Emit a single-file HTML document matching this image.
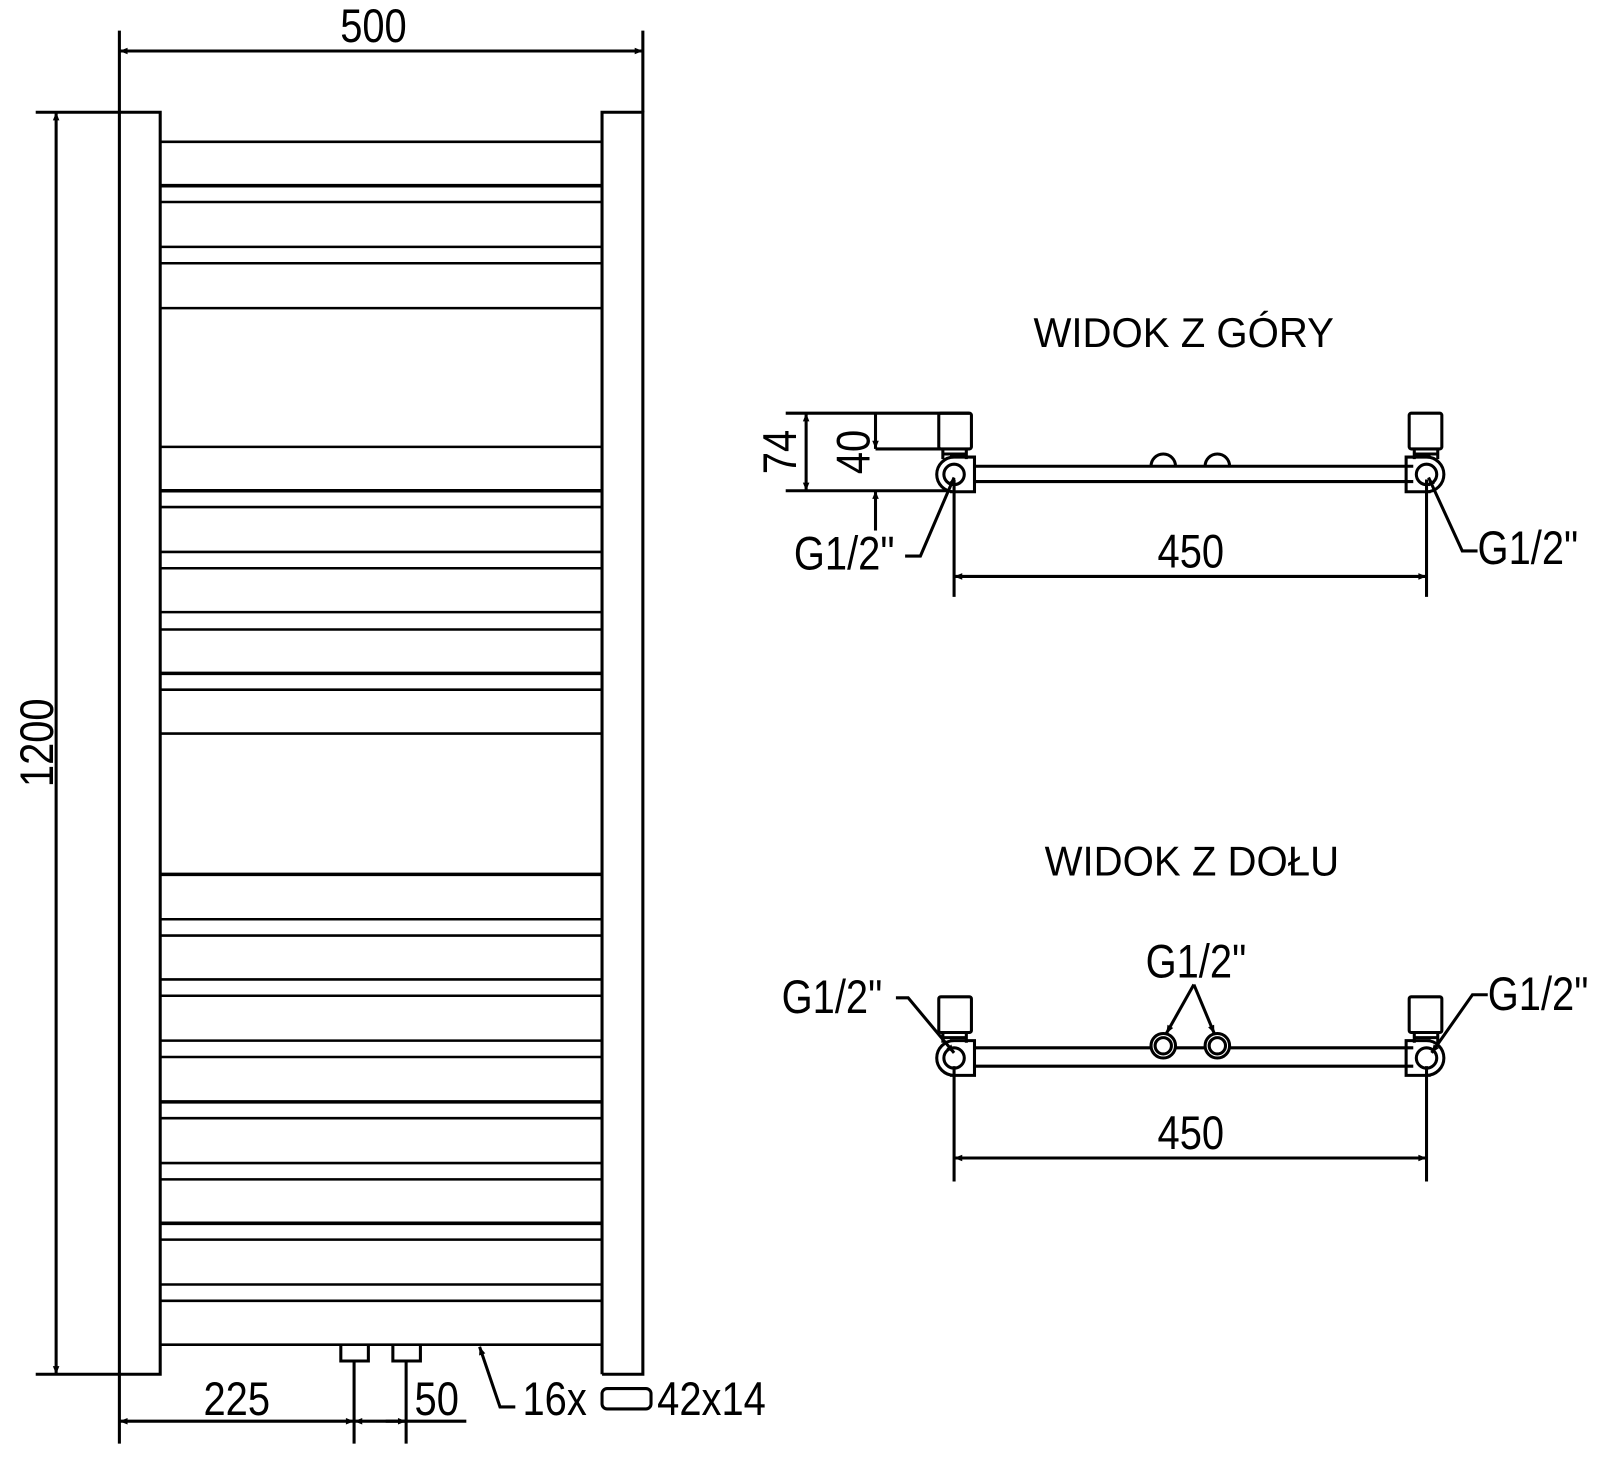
<!DOCTYPE html>
<html><head><meta charset="utf-8"><style>
html,body{margin:0;padding:0;background:#fff}
svg{display:block}
text{font-family:"Liberation Sans",sans-serif;fill:#000}
</style></head><body>
<svg width="1600" height="1461" viewBox="0 0 1568 1432" preserveAspectRatio="none" xmlns="http://www.w3.org/2000/svg">
<defs>
<marker id="a" viewBox="0 0 10 10" refX="10" refY="5" markerWidth="16" markerHeight="8" markerUnits="userSpaceOnUse" orient="auto-start-reverse"><path d="M0,1 L10,5 L0,9 z" fill="#000"/></marker>
<g id="vt">
<rect x="-15" y="-60" width="32" height="35" rx="2"/>
<path d="M-11,-25 v10 M12,-25 v10 M-11,-20 h23"/>
<path d="M-4,-17 h24 v34 h-24 M0,-17 a17,17 0 0 0 0,34"/>
<circle cx="0" cy="0" r="10"/>
</g>
</defs>
<g stroke="#000" stroke-width="3" fill="none">
<line x1="117" y1="30" x2="117" y2="1415"/>
<line x1="630" y1="30" x2="630" y2="110"/>
<line x1="117" y1="50" x2="630" y2="50" marker-start="url(#a)" marker-end="url(#a)"/>
<polyline points="35,110 157,110 157,1347 35,1347"/>
<polyline points="590,1347 590,110 630,110 630,1347 590,1347"/>
<line x1="55" y1="110" x2="55" y2="1347" marker-start="url(#a)" marker-end="url(#a)"/>
<g stroke-width="2.5">
<line x1="157" x2="590" y1="139" y2="139"/><line x1="157" x2="590" y1="182" y2="182" stroke-width="3.5"/>
<line x1="157" x2="590" y1="198" y2="198"/><line x1="157" x2="590" y1="242" y2="242"/>
<line x1="157" x2="590" y1="258" y2="258"/><line x1="157" x2="590" y1="302" y2="302"/>
<line x1="157" x2="590" y1="438" y2="438"/><line x1="157" x2="590" y1="481" y2="481" stroke-width="3.5"/>
<line x1="157" x2="590" y1="497" y2="497"/><line x1="157" x2="590" y1="541" y2="541"/>
<line x1="157" x2="590" y1="557" y2="557"/><line x1="157" x2="590" y1="600" y2="600"/>
<line x1="157" x2="590" y1="617" y2="617"/><line x1="157" x2="590" y1="660" y2="660" stroke-width="3.5"/>
<line x1="157" x2="590" y1="676" y2="676"/><line x1="157" x2="590" y1="719" y2="719"/>
<line x1="157" x2="590" y1="857" y2="857" stroke-width="3.5"/><line x1="157" x2="590" y1="901" y2="901"/>
<line x1="157" x2="590" y1="917" y2="917"/><line x1="157" x2="590" y1="960" y2="960"/>
<line x1="157" x2="590" y1="976" y2="976"/><line x1="157" x2="590" y1="1020" y2="1020"/>
<line x1="157" x2="590" y1="1036" y2="1036"/><line x1="157" x2="590" y1="1080" y2="1080" stroke-width="3.5"/>
<line x1="157" x2="590" y1="1096" y2="1096"/><line x1="157" x2="590" y1="1140" y2="1140"/>
<line x1="157" x2="590" y1="1156" y2="1156"/><line x1="157" x2="590" y1="1199" y2="1199" stroke-width="3.5"/>
<line x1="157" x2="590" y1="1215" y2="1215"/><line x1="157" x2="590" y1="1259" y2="1259"/>
<line x1="157" x2="590" y1="1275" y2="1275"/><line x1="157" x2="590" y1="1318" y2="1318"/>
</g>
<polyline points="334,1318 334,1334 361,1334 361,1318"/>
<polyline points="385,1318 385,1334 412,1334 412,1318"/>
<line x1="347" y1="1334" x2="347" y2="1415"/>
<line x1="398" y1="1334" x2="398" y2="1415"/>
<line x1="117" y1="1393" x2="347" y2="1393" marker-start="url(#a)" marker-end="url(#a)"/>
<line x1="347" y1="1393" x2="368" y2="1393" marker-start="url(#a)"/>
<line x1="378" y1="1393" x2="398" y2="1393" marker-end="url(#a)"/>
<line x1="368" y1="1393" x2="457" y2="1393"/>
<polyline points="505,1379 490,1379 470,1320" marker-end="url(#a)"/>
<rect x="590" y="1361" width="48" height="20" rx="5"/>

<line x1="770" y1="405" x2="950" y2="405"/>
<line x1="770" y1="481" x2="930" y2="481"/>
<line x1="790" y1="405" x2="790" y2="481" marker-start="url(#a)" marker-end="url(#a)"/>
<line x1="858" y1="405" x2="858" y2="440" marker-end="url(#a)"/>
<line x1="858" y1="520" x2="858" y2="481" marker-end="url(#a)"/>
<line x1="858" y1="440" x2="922" y2="440"/>
<line x1="955" y1="457" x2="1385" y2="457"/>
<line x1="955" y1="472" x2="1385" y2="472"/>
<path d="M1128,457 a12,12 0 0 1 24,0 M1181,457 a12,12 0 0 1 24,0"/>
<line x1="935" y1="470" x2="935" y2="585"/>
<line x1="1398" y1="470" x2="1398" y2="585"/>
<line x1="935" y1="565" x2="1398" y2="565" marker-start="url(#a)" marker-end="url(#a)"/>
<polyline points="887,545 902,545 935,468" marker-end="url(#a)"/>
<polyline points="1448,540 1433,540 1400,468" marker-end="url(#a)"/>

<line x1="955" y1="1027" x2="1385" y2="1027"/>
<line x1="955" y1="1045" x2="1385" y2="1045"/>
<circle cx="1140" cy="1025" r="12" fill="#fff"/><circle cx="1140" cy="1025" r="8"/>
<circle cx="1193" cy="1025" r="12" fill="#fff"/><circle cx="1193" cy="1025" r="8"/>
<line x1="935" y1="1045" x2="935" y2="1158"/>
<line x1="1398" y1="1045" x2="1398" y2="1158"/>
<line x1="935" y1="1135" x2="1398" y2="1135" marker-start="url(#a)" marker-end="url(#a)"/>
<line x1="1170" y1="965" x2="1143" y2="1013" marker-end="url(#a)"/>
<line x1="1170" y1="965" x2="1190" y2="1013" marker-end="url(#a)"/>
<polyline points="878,978 890,978 935,1032" marker-end="url(#a)"/>
<polyline points="1458,975 1443,975 1403,1032" marker-end="url(#a)"/>
<use href="#vt" transform="translate(935,465)"/>
<use href="#vt" transform="translate(1398,465) scale(-1,1)"/>
<use href="#vt" transform="translate(935,1037)"/>
<use href="#vt" transform="translate(1398,1037) scale(-1,1)"/>
</g>
<g font-size="46">
<text transform="translate(366,41) scale(0.85,1)" text-anchor="middle">500</text>
<text transform="translate(52,728) rotate(-90) scale(0.85,1)" text-anchor="middle">1200</text>
<text transform="translate(232,1387) scale(0.85,1)" text-anchor="middle">225</text>
<text transform="translate(428,1387) scale(0.85,1)" text-anchor="middle">50</text>
<text transform="translate(512,1387) scale(0.85,1)">16x</text>
<text transform="translate(644,1387) scale(0.85,1)">42x14</text>
<text transform="translate(780,443) rotate(-90) scale(0.85,1)" text-anchor="middle">74</text>
<text transform="translate(852,443) rotate(-90) scale(0.85,1)" text-anchor="middle">40</text>
<text transform="translate(778,558) scale(0.85,1)">G1/2"</text>
<text transform="translate(1448,553) scale(0.85,1)">G1/2"</text>
<text transform="translate(1167,556) scale(0.85,1)" text-anchor="middle">450</text>
<text transform="translate(1167,1126) scale(0.85,1)" text-anchor="middle">450</text>
<text transform="translate(1172,958) scale(0.85,1)" text-anchor="middle">G1/2"</text>
<text transform="translate(766,993) scale(0.85,1)">G1/2"</text>
<text transform="translate(1458,990) scale(0.85,1)">G1/2"</text>
</g>
<g font-size="41">
<text transform="translate(1160,340) scale(0.96,1)" text-anchor="middle">WIDOK Z GÓRY</text>
<text transform="translate(1168,858) scale(0.96,1)" text-anchor="middle">WIDOK Z DOŁU</text>
</g>
</svg>
</body></html>
